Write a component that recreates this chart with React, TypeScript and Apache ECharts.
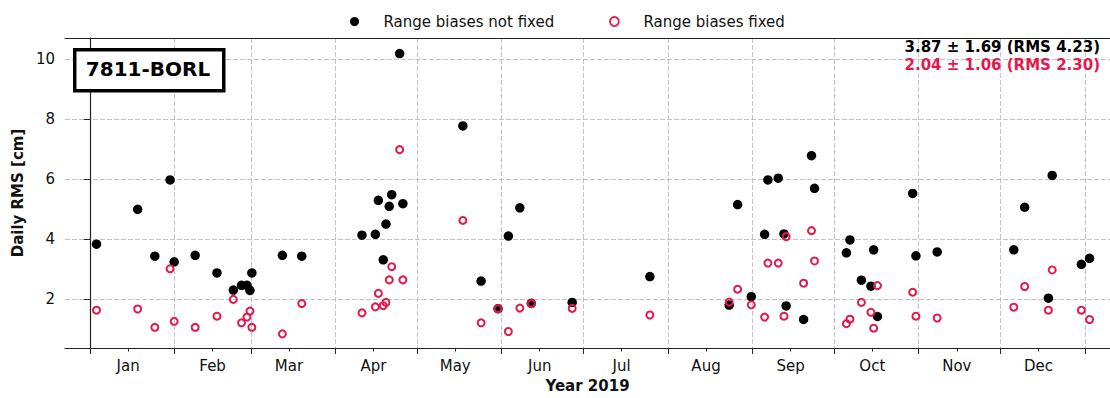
import React, { useEffect, useRef } from 'react';
import * as echarts from 'echarts';

const MONTHS = ['Jan', 'Feb', 'Mar', 'Apr', 'May', 'Jun', 'Jul', 'Aug', 'Sep', 'Oct', 'Nov', 'Dec'];
const MONTH_START_DAYS = [0, 31, 59, 90, 120, 151, 181, 212, 243, 273, 304, 334, 365];
const MONTH_MID_DAYS = [14, 45, 73, 104, 134, 165, 195, 226, 257, 287, 318, 348];
const Y_TICKS = [2, 4, 6, 8, 10];

// day of year 2019 (0 = 1 Jan)
const days = [
  2.4, 17.5, 23.8, 29.4, 30.9, 38.6, 46.6, 52.6, 55.6, 57.6, 58.7, 59.4, 70.6, 77.7,
  99.8, 104.7, 105.8, 107.6, 108.6, 109.8, 110.7, 113.6, 114.8,
  136.8, 143.5, 149.7, 153.5, 157.7, 161.9, 176.9, 205.4,
  234.5, 237.6, 242.6, 247.5, 248.7, 252.5, 254.6, 255.4, 261.8, 264.7, 265.8,
  277.5, 278.8, 283.0, 286.5, 287.5, 288.9, 301.8, 303.0, 310.8,
  338.9, 342.9, 351.6, 353.0, 363.7, 366.7,
];
const notFixed = [
  3.83, 4.99, 3.43, 5.97, 3.24, 3.46, 2.87, 2.30, 2.46, 2.46, 2.29, 2.87, 3.46, 3.43,
  4.13, 4.16, 5.29, 3.31, 4.50, 5.09, 5.48, 10.18, 5.18,
  7.77, 2.60, 1.68, 4.10, 5.04, 1.86, 1.89, 2.75,
  1.80, 5.15, 2.08, 4.16, 5.97, 6.03, 4.17, 1.77, 1.32, 6.78, 5.69,
  3.54, 3.97, 2.63, 2.43, 3.64, 1.42, 5.52, 3.44, 3.57,
  3.64, 5.06, 2.03, 6.12, 3.16, 3.36,
];
const fixed = [
  1.63, 1.67, 1.06, 3.01, 1.26, 1.06, 1.43, 1.99, 1.21, 1.40, 1.60, 1.06, 0.84, 1.85,
  1.54, 1.74, 2.19, 1.78, 1.89, 2.64, 3.08, 6.98, 2.64,
  4.62, 1.21, 1.68, 0.92, 1.70, 1.85, 1.69, 1.47,
  1.90, 2.33, 1.81, 1.40, 3.20, 3.20, 1.43, 4.08, 2.53, 4.28, 3.27,
  1.18, 1.33, 1.89, 1.56, 1.03, 2.45, 2.23, 1.43, 1.37,
  1.73, 2.42, 1.63, 2.97, 1.63, 1.32,
];

const STATION = '7811-BORL';
const STATS_NOT_FIXED = '3.87 \u00b1 1.69 (RMS 4.23)';
const STATS_FIXED = '2.04 \u00b1 1.06 (RMS 2.30)';
const NAME_NOT_FIXED = 'Range biases not fixed';
const NAME_FIXED = 'Range biases fixed';

const FONT = 'DejaVu Sans';
const RED = '#e3194d';
const INK = '#111111';
const X_MIN = -9.15;
const X_MAX = 374.2;
const Y_MIN = 0.37;
const Y_MAX = 10.7;

export default function App() {
  const ref = useRef<HTMLDivElement>(null);

  useEffect(() => {
    if (!ref.current) return;
    const chart = echarts.init(ref.current, undefined, { renderer: 'svg' });
    const gridLine = { show: true, lineStyle: { color: '#b5b5b5', type: [5, 2], width: 0.8 } };
    const spine = { show: true, lineStyle: { color: '#222', width: 1.2 } };
    const option: any = {
      animation: false,
      textStyle: { fontFamily: FONT, color: INK },
      grid: { left: 65, top: 38, right: 0, bottom: 46 },
      legend: [
        {
          data: [NAME_NOT_FIXED], left: 345, top: 9, itemWidth: 48, itemHeight: 9,
          textStyle: { fontSize: 15, fontFamily: FONT, color: INK },
        },
        {
          data: [NAME_FIXED], left: 604, top: 9, itemWidth: 48, itemHeight: 9,
          itemStyle: { borderWidth: 1.8 },
          textStyle: { fontSize: 15, fontFamily: FONT, color: INK },
        },
      ],
      xAxis: [
        {
          type: 'value', min: X_MIN, max: X_MAX, position: 'bottom',
          axisLine: spine,
          axisTick: { show: true, customValues: MONTH_START_DAYS, length: 6, lineStyle: { color: '#222', width: 1 } },
          axisLabel: { show: false },
          splitLine: gridLine,
        },
        {
          type: 'value', min: X_MIN, max: X_MAX, position: 'bottom',
          axisLine: { show: false },
          axisTick: { show: true, customValues: MONTH_MID_DAYS, length: 3.5, lineStyle: { color: '#222', width: 1 } },
          axisLabel: {
            show: true, customValues: MONTH_MID_DAYS, fontSize: 15, color: INK, margin: 10, fontFamily: FONT,
            formatter: (v: number) => {
              const i = MONTH_MID_DAYS.indexOf(Math.round(v));
              return i >= 0 ? MONTHS[i] : '';
            },
          },
          splitLine: { show: false },
          name: 'Year 2019', nameLocation: 'middle', nameGap: 30,
          nameTextStyle: { fontSize: 15, fontWeight: 'bold', color: INK, fontFamily: FONT },
        },
        {
          type: 'value', min: X_MIN, max: X_MAX, position: 'top',
          axisLine: spine,
          axisTick: { show: false },
          axisLabel: { show: false },
          splitLine: { show: false },
        },
      ],
      yAxis: {
        type: 'value', min: Y_MIN, max: Y_MAX,
        axisLine: spine,
        axisTick: { show: true, customValues: Y_TICKS, length: 6, lineStyle: { color: '#222', width: 1 } },
        axisLabel: { show: true, customValues: Y_TICKS, fontSize: 15, color: INK, margin: 10, fontFamily: FONT },
        splitLine: gridLine,
        name: 'Daily RMS [cm]', nameLocation: 'middle', nameGap: 40,
        nameTextStyle: { fontSize: 15, fontWeight: 'bold', color: INK, fontFamily: FONT },
      },
      series: [
        {
          name: NAME_NOT_FIXED, type: 'scatter', xAxisIndex: 0,
          symbol: 'circle', symbolSize: 9.5,
          itemStyle: { color: '#000000', opacity: 1 },
          data: days.map((d, i) => [d, notFixed[i]]),
        },
        {
          name: NAME_FIXED, type: 'scatter', xAxisIndex: 0,
          symbol: 'circle', symbolSize: 7,
          itemStyle: { color: 'rgba(255,255,255,0)', borderColor: RED, borderWidth: 2, opacity: 1 },
          data: days.map((d, i) => [d, fixed[i]]),
        },
      ],
      graphic: [
        {
          type: 'rect', left: 73, top: 48, z: 100,
          shape: { width: 149, height: 41 },
          style: { fill: '#ffffff', stroke: '#000000', lineWidth: 3.5 },
        },
        {
          type: 'text', x: 148, y: 69, z: 101,
          style: {
            text: STATION, fill: '#000', font: `bold 20px "${FONT}"`,
            align: 'center', verticalAlign: 'middle',
          },
        },
        {
          type: 'text', x: 1100, y: 46.5, z: 101,
          style: {
            text: STATS_NOT_FIXED, fill: '#000', font: `bold 15px "${FONT}"`, lineHeight: 15,
            align: 'right', verticalAlign: 'middle',
          },
        },
        {
          type: 'text', x: 1100, y: 64.5, z: 101,
          style: {
            text: STATS_FIXED, fill: RED, font: `bold 15px "${FONT}"`, lineHeight: 15,
            align: 'right', verticalAlign: 'middle',
          },
        },
      ],
    };
    chart.setOption(option);
    return () => chart.dispose();
  }, []);

  return (
    <div
      ref={ref}
      style={{ position: 'fixed', left: 0, top: 0, width: '1110px', height: '398px', background: '#fff' }}
    />
  );
}
